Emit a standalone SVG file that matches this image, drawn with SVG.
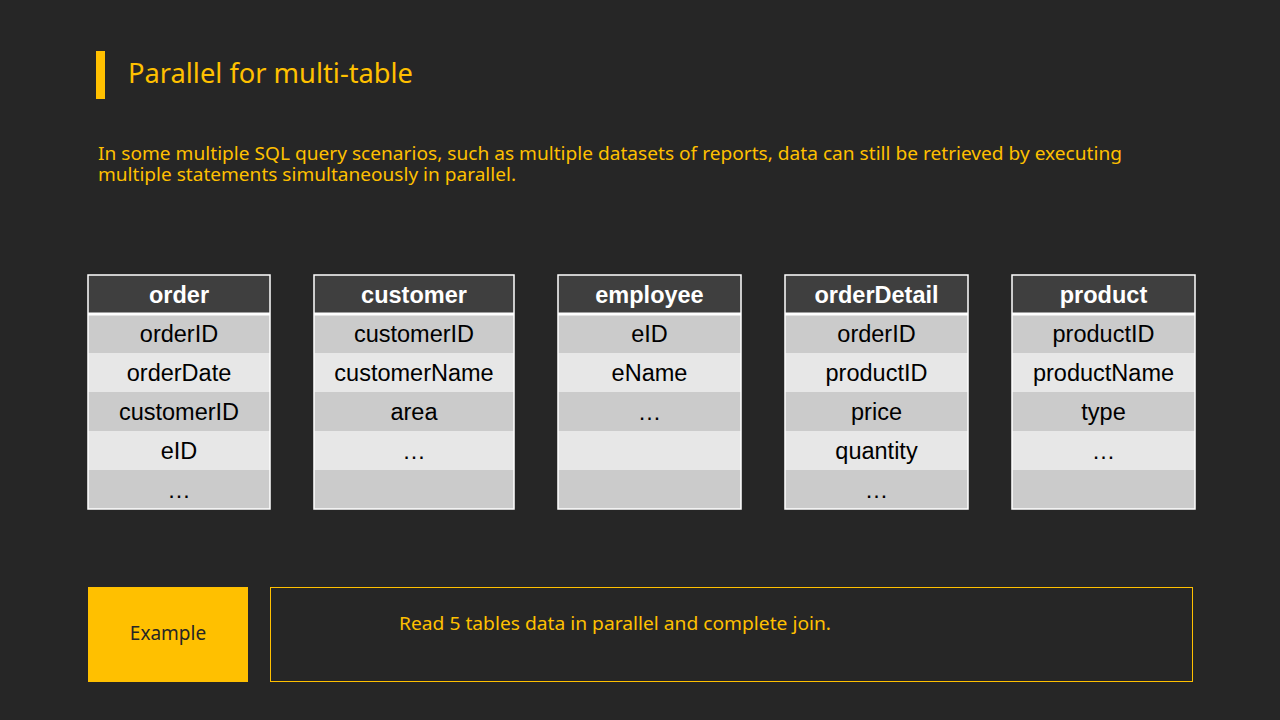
<svg xmlns="http://www.w3.org/2000/svg" width="1280" height="720" viewBox="0 0 1280 720">
<style>
.bg{fill:#262626}
.y{fill:#FFC000}
.ttl{font-family:"Noto Sans","Open Sans",sans-serif;font-size:27px;fill:#FFC000}
.desc{font-family:"Noto Sans","Open Sans",sans-serif;font-size:18.5px;fill:#FFC000}
.hd{fill:#3F3F3F}
.r1{fill:#CBCBCB}
.r2{fill:#E7E7E7}
.ht{font-family:"Liberation Sans",Arial,sans-serif;font-size:23.5px;font-weight:bold;fill:#FFFFFF;text-anchor:middle}
.ct{font-family:"Liberation Sans",Arial,sans-serif;font-size:23.5px;fill:#000000;text-anchor:middle}
.bd{fill:none;stroke:#FFFFFF;stroke-width:1.5}
.sep{stroke:#FFFFFF;stroke-width:3}
.ex{font-family:"Noto Sans","Open Sans",sans-serif;font-size:19px;fill:#262626;text-anchor:middle}
</style>
<rect class="bg" x="0" y="0" width="1280" height="720"/>
<rect class="y" x="96" y="51" width="9" height="48"/>
<text class="ttl" x="128" y="83" textLength="285" lengthAdjust="spacingAndGlyphs">Parallel for multi-table</text>
<text class="desc" x="98" y="160" textLength="1024" lengthAdjust="spacingAndGlyphs">In some multiple SQL query scenarios, such as multiple datasets of reports, data can still be retrieved by executing</text>
<text class="desc" x="98" y="181" textLength="418" lengthAdjust="spacingAndGlyphs">multiple statements simultaneously in parallel.</text>

<g id="order" transform="translate(88,275)">
<rect class="hd" x="0" y="0" width="182" height="39"/>
<rect class="r1" x="0" y="39" width="182" height="39"/>
<rect class="r2" x="0" y="78" width="182" height="39"/>
<rect class="r1" x="0" y="117" width="182" height="39"/>
<rect class="r2" x="0" y="156" width="182" height="39"/>
<rect class="r1" x="0" y="195" width="182" height="39"/>
<line class="sep" x1="0" y1="39" x2="182" y2="39"/>
<rect class="bd" x="0" y="0" width="182" height="234"/>
<text class="ht" x="91" y="28">order</text>
<text class="ct" x="91" y="67">orderID</text>
<text class="ct" x="91" y="106">orderDate</text>
<text class="ct" x="91" y="145">customerID</text>
<text class="ct" x="91" y="184">eID</text>
<text class="ct" x="91" y="223">…</text>
</g>

<g id="customer" transform="translate(314,275)">
<rect class="hd" x="0" y="0" width="200" height="39"/>
<rect class="r1" x="0" y="39" width="200" height="39"/>
<rect class="r2" x="0" y="78" width="200" height="39"/>
<rect class="r1" x="0" y="117" width="200" height="39"/>
<rect class="r2" x="0" y="156" width="200" height="39"/>
<rect class="r1" x="0" y="195" width="200" height="39"/>
<line class="sep" x1="0" y1="39" x2="200" y2="39"/>
<rect class="bd" x="0" y="0" width="200" height="234"/>
<text class="ht" x="100" y="28">customer</text>
<text class="ct" x="100" y="67">customerID</text>
<text class="ct" x="100" y="106">customerName</text>
<text class="ct" x="100" y="145">area</text>
<text class="ct" x="100" y="184">…</text>
</g>

<g id="employee" transform="translate(558,275)">
<rect class="hd" x="0" y="0" width="183" height="39"/>
<rect class="r1" x="0" y="39" width="183" height="39"/>
<rect class="r2" x="0" y="78" width="183" height="39"/>
<rect class="r1" x="0" y="117" width="183" height="39"/>
<rect class="r2" x="0" y="156" width="183" height="39"/>
<rect class="r1" x="0" y="195" width="183" height="39"/>
<line class="sep" x1="0" y1="39" x2="183" y2="39"/>
<rect class="bd" x="0" y="0" width="183" height="234"/>
<text class="ht" x="91.5" y="28">employee</text>
<text class="ct" x="91.5" y="67">eID</text>
<text class="ct" x="91.5" y="106">eName</text>
<text class="ct" x="91.5" y="145">…</text>
</g>

<g id="orderDetail" transform="translate(785,275)">
<rect class="hd" x="0" y="0" width="183" height="39"/>
<rect class="r1" x="0" y="39" width="183" height="39"/>
<rect class="r2" x="0" y="78" width="183" height="39"/>
<rect class="r1" x="0" y="117" width="183" height="39"/>
<rect class="r2" x="0" y="156" width="183" height="39"/>
<rect class="r1" x="0" y="195" width="183" height="39"/>
<line class="sep" x1="0" y1="39" x2="183" y2="39"/>
<rect class="bd" x="0" y="0" width="183" height="234"/>
<text class="ht" x="91.5" y="28">orderDetail</text>
<text class="ct" x="91.5" y="67">orderID</text>
<text class="ct" x="91.5" y="106">productID</text>
<text class="ct" x="91.5" y="145">price</text>
<text class="ct" x="91.5" y="184">quantity</text>
<text class="ct" x="91.5" y="223">…</text>
</g>

<g id="product" transform="translate(1012,275)">
<rect class="hd" x="0" y="0" width="183" height="39"/>
<rect class="r1" x="0" y="39" width="183" height="39"/>
<rect class="r2" x="0" y="78" width="183" height="39"/>
<rect class="r1" x="0" y="117" width="183" height="39"/>
<rect class="r2" x="0" y="156" width="183" height="39"/>
<rect class="r1" x="0" y="195" width="183" height="39"/>
<line class="sep" x1="0" y1="39" x2="183" y2="39"/>
<rect class="bd" x="0" y="0" width="183" height="234"/>
<text class="ht" x="91.5" y="28">product</text>
<text class="ct" x="91.5" y="67">productID</text>
<text class="ct" x="91.5" y="106">productName</text>
<text class="ct" x="91.5" y="145">type</text>
<text class="ct" x="91.5" y="184">…</text>
</g>

<g id="example">
<rect class="y" x="88" y="587" width="160" height="95"/>
<text class="ex" x="168" y="640">Example</text>
</g>
<g id="note">
<rect x="270.5" y="587.5" width="922" height="94" fill="none" stroke="#FFC000" stroke-width="1"/>
<text class="desc" x="399" y="630" textLength="432" lengthAdjust="spacingAndGlyphs">Read 5 tables data in parallel and complete join.</text>
</g>
<g id="connectors"/>
</svg>
